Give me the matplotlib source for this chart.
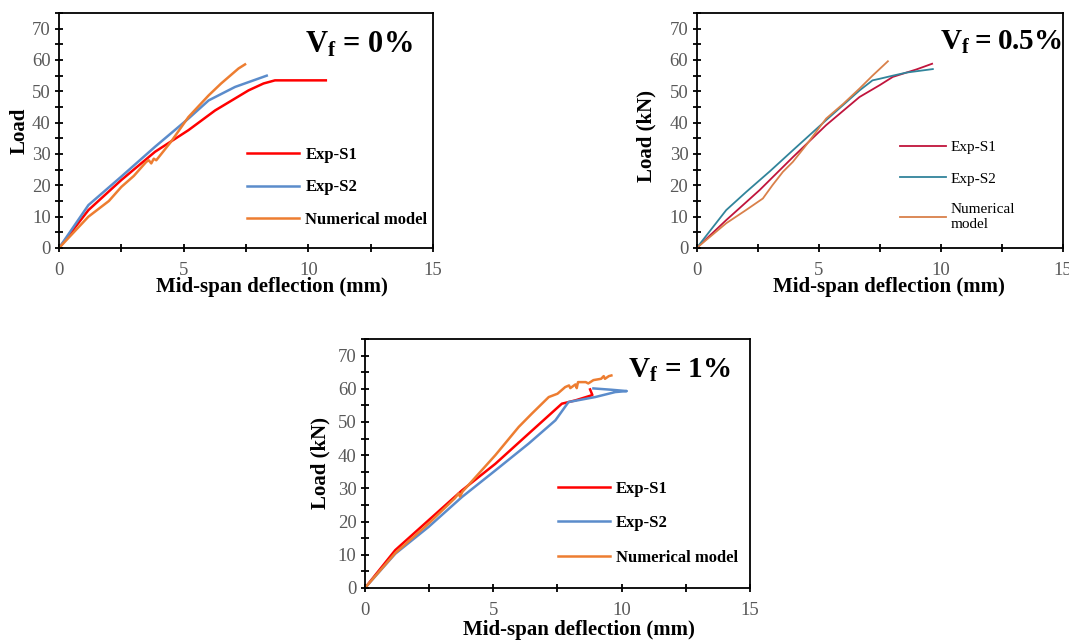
import numpy as np
import matplotlib
matplotlib.use("Agg")
from matplotlib import pyplot as plt
from matplotlib.ticker import MultipleLocator

plt.rcParams['font.family'] = ['Liberation Serif', 'DejaVu Serif']
plt.rcParams['mathtext.fontset'] = 'custom'
plt.rcParams['mathtext.rm'] = 'Liberation Serif'
plt.rcParams['mathtext.bf'] = 'Liberation Serif:bold'

# Vf = 0%
p1_s1_x = [0, 1.18, 2.5, 3.85, 5.19, 6.26, 7.6, 8.2, 8.66, 10.7]
p1_s1_y = [0, 12.1, 21.7, 30.7, 37.6, 43.9, 50.3, 52.5, 53.5, 53.5]
p1_s2_x = [0, 1.18, 2.5, 3.85, 5.19, 6.0, 7.06, 8.33]
p1_s2_y = [0, 13.7, 22.8, 32.3, 41.3, 47.1, 51.4, 55.0]
p1_num_x = [0, 1.18, 2.0, 2.5, 3.0, 3.5, 3.6, 3.7, 3.8, 3.9, 4.5, 5.19, 6.0, 6.5, 7.2, 7.46]
p1_num_y = [0, 10.0, 15.0, 19.5, 23.0, 27.5, 28.0, 27.0, 28.5, 28.0, 34.0, 41.8, 48.7, 52.5, 57.3, 58.6]

# Vf = 0.5%
p2_s1_x = [0, 1.21, 2.58, 3.94, 5.3, 6.67, 7.5, 8.03, 9.0, 9.64]
p2_s1_y = [0, 8.9, 18.5, 29.0, 39.2, 48.2, 52.0, 54.6, 57.0, 58.8]
p2_s2_x = [0, 1.21, 2.03, 3.0, 3.94, 5.3, 6.67, 7.2, 7.49, 8.03, 8.6, 9.67]
p2_s2_y = [0, 12.1, 17.9, 24.5, 31.2, 40.8, 50.3, 53.5, 54.0, 55.0, 56.0, 57.1]
p2_num_x = [0, 1.21, 2.0, 2.71, 3.1, 3.53, 3.94, 4.5, 5.3, 6.0, 6.67, 7.2, 7.83]
p2_num_y = [0, 7.9, 12.0, 15.8, 20.0, 24.3, 27.5, 33.0, 41.3, 46.0, 50.9, 55.0, 59.6]

# Vf = 1%
p3_s1_x = [0, 1.18, 2.48, 3.78, 5.08, 6.38, 7.67, 8.2, 8.86, 8.77]
p3_s1_y = [0, 11.4, 20.4, 29.4, 37.4, 46.5, 55.5, 56.5, 58.1, 59.8]
p3_s2_x = [0, 1.18, 2.48, 3.78, 5.08, 6.38, 7.42, 7.93, 8.97, 9.75, 10.2, 9.6, 8.9]
p3_s2_y = [0, 10.3, 18.4, 27.4, 35.4, 43.5, 50.5, 56.0, 57.5, 59.0, 59.3, 59.7, 60.1]
p3_num_x = [0, 1.18, 2.48, 3.5, 3.65, 3.7, 3.8, 5.08, 5.99, 6.5, 7.16, 7.5, 7.8, 7.95, 8.0,
            8.2, 8.25, 8.3, 8.6, 8.7, 8.9, 9.2, 9.3, 9.35, 9.5, 9.6]
p3_num_y = [0, 10.5, 19.4, 27.0, 28.5, 27.5, 29.0, 40.0, 48.5, 52.5, 57.5, 58.5, 60.5, 61.0, 60.2,
            61.3, 60.2, 62.0, 62.0, 61.6, 62.6, 63.0, 63.8, 63.0, 63.8, 64.0]

labels = ["Exp-S1", "Exp-S2", "Numerical model"]
labels_p2 = ["Exp-S1", "Exp-S2", "Numerical\nmodel"]


def style_axes(ax, ylabel, ylabel_x, ylabel_y, xlabel_x, xlabel_y):
    ax.set_xlim(0, 15)
    ax.set_ylim(0, 75)
    ax.xaxis.set_major_locator(MultipleLocator(5))
    ax.xaxis.set_minor_locator(MultipleLocator(2.5))
    ax.yaxis.set_major_locator(MultipleLocator(10))
    ax.yaxis.set_minor_locator(MultipleLocator(5))
    ax.set_yticks(np.arange(0, 71, 10))
    ax.tick_params(which='both', direction='inout', length=6, width=1.3,
                   labelsize=13.5, labelcolor='#595959')
    ax.tick_params(axis='x', which='both', pad=7)
    ax.tick_params(axis='y', which='both', pad=3)
    for sp in ax.spines.values():
        sp.set_linewidth(1.3)
    ax.set_xlabel("Mid-span deflection (mm)", fontsize=15, fontweight='bold')
    ax.xaxis.set_label_coords(xlabel_x, xlabel_y)
    ax.set_ylabel(ylabel, fontsize=15, fontweight='bold')
    ax.yaxis.set_label_coords(ylabel_x, ylabel_y)


fig = plt.figure(figsize=(10.69, 6.40), dpi=100)

# panel 1
ax1 = fig.add_axes([0.0552, 0.6125, 0.3499, 0.3672])
ax1.plot(p1_s1_x, p1_s1_y, color='#FF0000', lw=1.8, label=labels[0])
ax1.plot(p1_s2_x, p1_s2_y, color='#5B8CCB', lw=1.8, label=labels[1])
ax1.plot(p1_num_x, p1_num_y, color='#ED7D31', lw=1.8, label=labels[2])
style_axes(ax1, "Load", -0.078, 0.5, 0.57, -0.125)
ax1.text(0.658, 0.83, r'$\mathbf{V_f}$ = 0%', transform=ax1.transAxes,
         fontsize=22, fontweight='bold')
ax1.legend(loc='center left', bbox_to_anchor=(0.503, 0.258), frameon=False,
           borderpad=0, borderaxespad=0, handlelength=3.1, handletextpad=0.4,
           labelspacing=1.0, prop={'size': 12, 'weight': 'bold'})

# panel 2
ax2 = fig.add_axes([0.6517, 0.6125, 0.3427, 0.3672])
ax2.plot(p2_s1_x, p2_s1_y, color='#C0143C', lw=1.3, label=labels_p2[0])
ax2.plot(p2_s2_x, p2_s2_y, color='#31849B', lw=1.3, label=labels_p2[1])
ax2.plot(p2_num_x, p2_num_y, color='#D9804A', lw=1.3, label=labels_p2[2])
style_axes(ax2, "Load (kN)", -0.11, 0.477, 0.525, -0.125)
ax2.text(0.664, 0.843, '$\\mathbf{V_f}$\u2009=\u20090.5%', transform=ax2.transAxes,
         fontsize=21, fontweight='bold')
ax2.legend(loc='upper left', bbox_to_anchor=(0.555, 0.457), frameon=False,
           borderpad=0, borderaxespad=0, handlelength=3.0, handletextpad=0.3,
           labelspacing=1.15, prop={'size': 11})

# panel 3
ax3 = fig.add_axes([0.3414, 0.0813, 0.3602, 0.3891])
ax3.plot(p3_s1_x, p3_s1_y, color='#FF0000', lw=1.8, label=labels[0])
ax3.plot(p3_s2_x, p3_s2_y, color='#5B8CCB', lw=1.8, label=labels[1])
ax3.plot(p3_num_x, p3_num_y, color='#ED7D31', lw=1.8, label=labels[2])
style_axes(ax3, "Load (kN)", -0.09, 0.5, 0.557, -0.128)
ax3.text(0.683, 0.843, r'$\mathbf{V_f}$ = 1%', transform=ax3.transAxes,
         fontsize=21, fontweight='bold')
ax3.legend(loc='center left', bbox_to_anchor=(0.501, 0.26), frameon=False,
           borderpad=0, borderaxespad=0, handlelength=3.1, handletextpad=0.4,
           labelspacing=1.1, prop={'size': 12, 'weight': 'bold'})

fig.savefig("out.png", dpi=100)
